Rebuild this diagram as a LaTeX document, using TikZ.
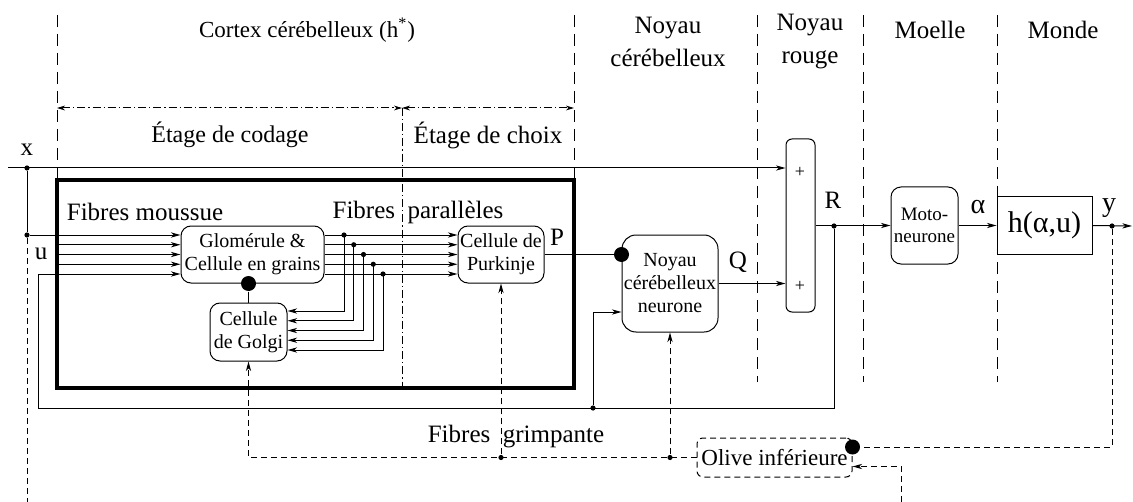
\documentclass[tikz,border=0pt]{standalone}
\usepackage{fontspec}
\setmainfont{Liberation Serif}
\usetikzlibrary{arrows.meta,positioning}

\begin{document}
\begin{tikzpicture}[x=0.5pt,y=-0.5pt,line width=0.5pt,
  box/.style={draw,rounded corners=5pt,align=center,inner sep=0pt,font=\fontsize{10}{11.5}\selectfont},
  cadre/.style={draw,line width=2pt},
  sig/.style={-{Stealth[length=4.8pt,width=2.6pt,inset=1.4pt]}},
  cf/.style={dash pattern=on 3pt off 2pt},
  sep/.style={dash pattern=on 6pt off 3.5pt},
  etage/.style={dash pattern=on 4pt off 1.5pt on 0.6pt off 1.5pt},
  lab/.style={font=\fontsize{12.5}{12.5}\selectfont,align=center,inner sep=0pt},
  pt/.style={circle,fill,inner sep=0pt,minimum size=2.6pt},
  syn/.style={circle,fill,inner sep=0pt,minimum size=7.5pt}]
\useasboundingbox (0,0) rectangle (1133,502);
% zones
\draw[sep] (57,15) -- (57,180);
\draw[sep] (574,15) -- (574,180);
\draw[sep] (757,15) -- (757,382);
\draw[sep] (863,15) -- (863,382);
\draw[sep] (997,15) -- (997,382);
\node[lab,font=\fontsize{11.5}{12}\selectfont] (cortex) at (307,30) {Cortex cérébelleux (h\textsuperscript{*})};
\node[lab] (ncer) at (668,42) {Noyau\\[4pt]cérébelleux};
\node[lab] (nrouge) at (810,42) {Noyau\\[4pt]rouge};
\node[lab] (moelle) at (930,30) {Moelle};
\node[lab] (monde) at (1063,30) {Monde};
% etages
\draw[etage,{Stealth[length=4pt,width=2.4pt,inset=1.2pt]}-{Stealth[length=4pt,width=2.4pt,inset=1.2pt]}] (57,108) -- (402,108);
\draw[etage,{Stealth[length=4pt,width=2.4pt,inset=1.2pt]}-{Stealth[length=4pt,width=2.4pt,inset=1.2pt]}] (402,108) -- (574,108);
\draw[etage] (402,108) -- (402,388);
\node[lab,font=\fontsize{12}{12}\selectfont] (codage) at (230,135) {Étage de codage};
\node[lab] (choix) at (488,135) {Étage de choix};
\draw[cadre] (57,180) rectangle (574,388);
% blocs
\node[box,minimum width=71.5pt,minimum height=28.5pt] (glom) at (252.5,254.5) {Glomérule \&\\Cellule en grains};
\node[box,minimum width=38.5pt,minimum height=29pt] (golgi) at (248.5,332) {Cellule\\de Golgi};
\node[box,minimum width=43pt,minimum height=28.5pt] (purk) at (501,254.5) {Cellule de\\Purkinje};
\node[box,minimum width=48pt,minimum height=48.5pt,rounded corners=7pt] (noyn) at (670,283.5) {Noyau\\cérébelleux\\neurone};
\node[box,minimum width=14.5pt,minimum height=86.5pt,rounded corners=3pt] (sum) at (800.5,225.5) {};
\node[font=\small] (plus1) at (800,172) {+};
\node[font=\small] (plus2) at (800,286) {+};
\node[box,minimum width=33.5pt,minimum height=38.5pt,font=\fontsize{9.5}{11}\selectfont] (moto) at (924.5,225.5) {Moto-\\neurone};
\node[draw,minimum width=47.5pt,minimum height=28.5pt,inner sep=0pt,font=\fontsize{15}{15}\selectfont] (hbox) at (1044.5,225.5) {h(α,u)};
\node[box,cf,rounded corners=3pt,minimum width=77.5pt,minimum height=19.5pt,font=\fontsize{11.5}{12}\selectfont] (olive) at (774.5,457.5) {Olive inférieure};
% signaux
\coordinate (xin) at (8,168);
\node[pt] (xtap) at (27,168) {};
\node[pt] (utap) at (27,235) {};
\node[lab] (xlab) at (27,150) {x};
\node[lab] (ulab) at (41,254) {u};
\node[lab] (mousse) at (145,212) {Fibres moussue};
\node[lab] (para) at (418,212) {Fibres~~parallèles};
\draw[sig] (xin) -- (sum.west |- xin);
\draw (xtap) -- (utap);
\draw[sig] (utap) -- (glom.west |- utap);
\foreach \i in {1,2,3}{
  \pgfmathsetmacro{\yy}{235+9.75*\i}
  \draw[sig] (57,\yy) -- (glom.west |- 0,\yy);
}
\foreach \i in {0,...,4}{
  \pgfmathsetmacro{\yy}{235+9.75*\i}
  \pgfmathsetmacro{\xx}{344+9.75*\i}
  \pgfmathsetmacro{\gg}{311+9.75*\i}
  \draw[sig] (glom.east |- 0,\yy) -- (purk.west |- 0,\yy);
  \draw[sig] (\xx,\yy) -- (\xx,\gg) -- (golgi.east |- 0,\gg);
  \node[pt] (fp\i) at (\xx,\yy) {};
}
\node[syn] (gsyn) at (golgi.north |- glom.south) {};
\draw (gsyn) -- (golgi.north);
\node[lab] (plab) at (557,237) {P};
\node[syn] (psyn) at (noyn.west |- purk.east) {};
\draw (purk.east) -- (psyn);
\draw[sig] (noyn.east) -- (sum.west |- noyn.east);
\node[lab] (qlab) at (738,262) {Q};
\node[pt] (rdot) at (834,226) {};
\node[lab] (rlab) at (833,200) {R};
\draw[sig] (sum.east) -- (moto.west);
\draw[sig] (moto.east) -- (hbox.west);
\node[lab,font=\fontsize{14}{14}\selectfont] (alab) at (978,207) {α};
\node[pt] (ydot) at (1112,226) {};
\node[lab,font=\fontsize{14}{14}\selectfont] (ylab) at (1109,208) {y};
\coordinate (yout) at (1132,226);
\draw[sig] (hbox.east) -- (yout);
% boucle
\coordinate (fbc) at (38,408);
\node[pt] (ndot) at (593,408) {};
\draw[sig] (rdot) |- (fbc) |- (glom.west |- 0,274);
\draw[sig] (ndot) |- ([yshift=-14.25pt]noyn.west);
% fibres grimpantes
\node[syn] (osyn) at ([yshift=5.25pt]olive.east) {};
\draw[cf] (ydot) |- (osyn);
\coordinate (obot) at (901,502);
\draw[cf,sig] (obot) |- ([yshift=-4.5pt]olive.east);
\coordinate (ubot) at (27,502);
\draw[cf] (utap) -- (ubot);
\node[pt] (cfn) at (noyn.south |- olive.west) {};
\node[pt] (cfp) at (purk.south |- olive.west) {};
\draw[cf,sig] (olive.west) -| (golgi.south);
\draw[cf,sig] (cfn) -- (noyn.south);
\draw[cf,sig] (cfp) -- (purk.south);
\node[lab] (grimp) at (516,437) {Fibres~~grimpante};
\end{tikzpicture}
\end{document}
